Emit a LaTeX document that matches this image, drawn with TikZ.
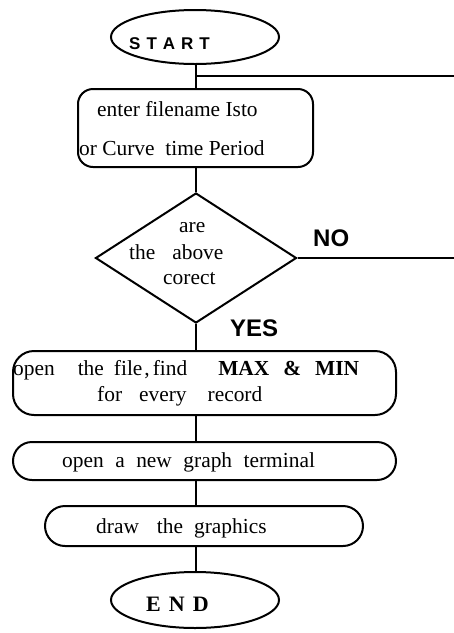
\documentclass[tikz,border=0pt]{standalone}
\usepackage{fontspec}
\setmainfont{Liberation Serif}
\setsansfont{Liberation Sans}
\usetikzlibrary{shapes.geometric}
\tikzset{
  x=1pt, y=-1pt,
  ln/.style={line width=2pt},
  term/.style={ellipse, draw, line width=2pt, minimum width=168pt, minimum height=54pt, inner sep=0pt},
  procbox/.style={rectangle, draw, line width=2pt, inner sep=0pt},
  dec/.style={diamond, draw, line width=2pt, minimum width=201pt, minimum height=130pt, inner sep=0pt, aspect=1.55},
  txt/.style={anchor=base west, inner sep=0pt, font=\fontsize{21.4}{25}\selectfont},
  lbl/.style={anchor=base west, inner sep=0pt, font=\fontsize{24}{28}\selectfont\sffamily\bfseries},
}
\begin{document}
\begin{tikzpicture}
\useasboundingbox (0,0) rectangle (454,633);
% shapes
\node[term] (start) at (195,37) {};
\node[procbox, rounded corners=15pt, minimum width=235pt, minimum height=78pt] (b1) at (195.5,128) {};
\node[dec] (dia) at (196,258) {};
\node[procbox, rounded corners=21pt, minimum width=383pt, minimum height=64pt] (b2) at (204.5,383) {};
\node[procbox, rounded corners=19pt, minimum width=383pt, minimum height=38pt] (b3) at (204.5,461) {};
\node[procbox, rounded corners=20pt, minimum width=318pt, minimum height=40pt] (b4) at (204,526) {};
\node[term, minimum height=56pt] (end) at (195,600) {};
% texts
\node[anchor=base west, inner sep=0pt, font=\fontsize{17}{20}\selectfont\sffamily\bfseries] (ts) at (129,49) {S\hspace{6pt}T\hspace{6pt}A\hspace{6pt}R\hspace{6pt}T};
\node[txt] (t1a) at (97,116) {enter filename Isto};
\node[txt] (t1b) at (79,155) {or Curve\ \ time Period};
\node[txt] (d1) at (179,232.7) {are};
\node[txt] (d2) at (129,259) {the\hspace{17pt}above};
\node[txt] (d3) at (163,284) {corect};
\node[txt] (t2a) at (13,375.7) {open\hspace{23pt}the\hspace{10pt}file\hspace{2pt},\hspace{3pt}find\hspace{31pt}\textbf{MAX\hspace{14pt}\&\hspace{14pt}MIN}};
\node[txt] (t2b) at (97,401.7) {for\hspace{17pt}every\hspace{21pt}record};
\node[txt] (t3) at (62,467.7) {open\hspace{11.5pt}a\hspace{11.5pt}new\hspace{11.5pt}graph\hspace{11.5pt}terminal};
\node[txt] (t4) at (96,533) {draw\hspace{18pt}the\hspace{11pt}graphics};
\node[anchor=base west, inner sep=0pt, font=\fontsize{22}{26}\selectfont\bfseries] (te) at (146,611) {E\hspace{8pt}N\hspace{8pt}D};
\node[lbl] (no) at (313,246) {NO};
\node[lbl] (yes) at (230,336) {YES};
% connectors
\coordinate (j) at (196,76);
\coordinate (jr) at (454,76);
\coordinate (nr) at (454,258);
\draw[ln] (start.south -| j) -- (b1.north -| j);
\draw[ln] (j) -- (jr);
\draw[ln] (b1.south -| dia.north) -- (dia.north);
\draw[ln] (dia.east) -- (nr);
\draw[ln] (dia.south) -- (dia.south |- b2.north);
\draw[ln] (b2.south -| dia.south) -- (b3.north -| dia.south);
\draw[ln] (b3.south -| dia.south) -- (b4.north -| dia.south);
\draw[ln] (b4.south -| dia.south) -- (end.north -| dia.south);
\end{tikzpicture}
\end{document}
